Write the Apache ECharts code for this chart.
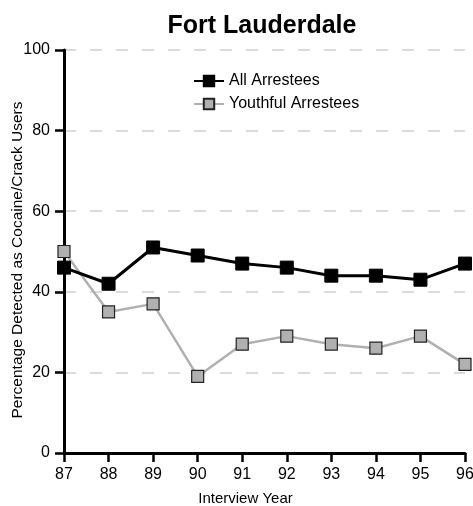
<!DOCTYPE html>
<html><head><meta charset="utf-8">
<script src="https://cdn.jsdelivr.net/npm/echarts@6/dist/echarts.min.js"></script>
<style>html,body{margin:0;padding:0;background:#fff}#c{width:473px;height:506px}</style>
</head><body><div id="c"></div>
<script>
const years = ['87','88','89','90','91','92','93','94','95','96'];
const allArrestees = [46, 42, 51, 49, 47, 46, 44, 44, 43, 47];
const youthfulArrestees = [50, 35, 37, 19, 27, 29, 27, 26, 29, 22];
const yTicks = [0, 20, 40, 60, 80, 100];

const F = 'Liberation Sans, Arial, Helvetica, sans-serif';
const chart = echarts.init(document.getElementById('c'));
chart.setOption({
  animation: false,
  title: {text: 'Fort Lauderdale', left: 257, textAlign: 'center', top: 9,
    textStyle: {fontFamily: F, fontSize: 25, fontWeight: 'bold', color: '#000'}},
  legend: {orient: 'vertical', left: 188, top: 68, itemGap: 7, itemWidth: 30, itemHeight: 13,
    textStyle: {fontFamily: F, fontSize: 16, color: '#000'},
    data: ['All Arrestees', 'Youthful Arrestees']},
  grid: {left: 64, right: 8, top: 50, bottom: 53, containLabel: false, outerBoundsMode: 'none'},
  xAxis: {type: 'category', data: years, boundaryGap: false,
    name: 'Interview Year', nameLocation: 'middle', nameGap: 38, nameMoveOverlap: false,
    nameTextStyle: {fontFamily: F, fontSize: 15, color: '#000', padding: [0, 38, 0, 0]},
    axisLine: {lineStyle: {color: '#000', width: 3}},
    axisTick: {show: true, length: 9, lineStyle: {color: '#000', width: 2.5}},
    axisLabel: {fontFamily: F, fontSize: 16, color: '#000', margin: 14},
    splitLine: {show: false}},
  yAxis: {type: 'value', min: 0, max: 100, interval: 20,
    name: 'Percentage Detected as Cocaine/Crack Users', nameLocation: 'middle', nameGap: 38, nameMoveOverlap: false,
    nameTextStyle: {fontFamily: F, fontSize: 15.5, color: '#000', padding: [0, 17, 0, 0]},
    axisLine: {show: true, lineStyle: {color: '#000', width: 3}},
    axisTick: {show: true, length: 9, lineStyle: {color: '#000', width: 2.5}},
    axisLabel: {fontFamily: F, fontSize: 16, color: '#000', margin: 14},
    splitLine: {show: true, lineStyle: {color: '#d0d0d0', width: 1.5, type: [12, 14]}}},
  series: [
    {name: 'All Arrestees', type: 'line', data: allArrestees, symbol: 'rect', symbolSize: 13,
      lineStyle: {color: '#000', width: 3}, itemStyle: {color: '#000', borderColor: '#000', borderWidth: 1}, z: 3},
    {name: 'Youthful Arrestees', type: 'line', data: youthfulArrestees, symbol: 'rect', symbolSize: 12,
      lineStyle: {color: '#b0b0b0', width: 2.5}, itemStyle: {color: '#b0b0b0', borderColor: '#222', borderWidth: 1.2}, z: 2}
  ]
});
</script></body></html>
